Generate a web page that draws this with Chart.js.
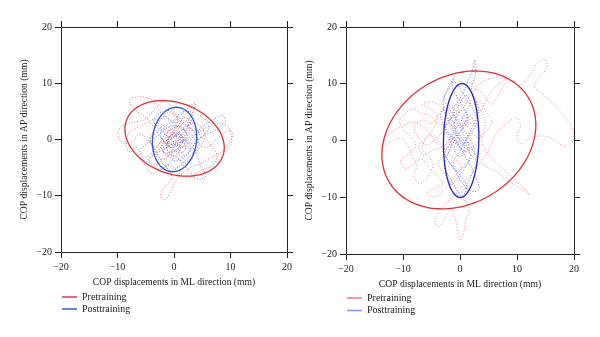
<!DOCTYPE html>
<html>
<head>
<meta charset="utf-8">
<script src="https://cdn.jsdelivr.net/npm/chart.js@4/dist/chart.umd.min.js"></script>
<style>
  body { margin: 0; background: #fff; }
  .panel { position: absolute; top: 0; width: 300px; height: 337px; }
</style>
</head>
<body>
<div class="panel" style="left:0"><canvas id="before" width="300" height="337"></canvas></div>
<div class="panel" style="left:300px"><canvas id="after" width="300" height="337"></canvas></div>

<script>
// axis ticks (mm)
const axisTicks = [-20, -10, 0, 10, 20];
const seriesNames = ["Pretraining", "Posttraining"];

// left panel: COP paths [ML, AP] in mm
const preLeftPath = [
  [0.2,0.5],[1.5,1.8],[2.8,0.9],[1.9,-0.8],[0.4,-1.9],[-1.2,-0.9],[-2.6,0.8],[-3.9,2.6],[-5.2,4.1],[-6.8,5.2],
  [-7.9,6.9],[-6.4,7.6],[-4.5,7.3],[-3.2,6.1],[-4.1,4.5],[-5.6,3.4],[-7.5,3.0],[-9.3,2.4],[-9.9,0.9],[-9.0,-0.6],
  [-7.4,-0.4],[-6.1,0.9],[-4.8,0.2],[-3.5,-1.6],[-2.4,-3.5],[-1.1,-5.2],[-0.4,-6.9],[-1.6,-8.4],[-2.4,-10.1],[-1.5,-10.7],
  [-0.6,-9.2],[0.3,-7.4],[1.4,-6.1],[2.9,-5.0],[4.6,-4.3],[6.2,-3.4],[7.9,-2.5],[9.3,-1.2],[10.3,0.4],[10.1,1.6],
  [8.8,1.1],[7.2,-0.2],[5.9,-1.4],[4.3,-0.6],[3.1,0.9],[2.4,2.7],[3.2,4.6],[3.8,6.5],[2.6,5.7],[1.1,4.2],
  [-0.3,3.1],[-1.8,4.4],[-2.9,5.9],[-1.6,6.8],[-0.2,5.4],[0.6,3.6],[0.1,1.7],[-0.9,0.3],[-2.1,-1.1],[-3.4,-2.4],
  [-4.6,-3.6],[-3.1,-4.4],[-1.6,-3.2],[-0.3,-2.1],[1.1,-2.9],[2.3,-3.9],[3.6,-2.6],[4.8,-1.1],[5.5,0.8],[4.6,2.4],
  [3.1,2.9],[1.7,1.2],[0.6,-0.4],[-0.7,-1.4],[-1.4,0.6],[-0.5,2.1],[0.9,2.5],[2.1,1.4],[1.3,-0.2],[0.2,-1.1],
  [-1.0,-2.4],[-2.2,-1.8],[-1.7,0.1],[-0.4,0.8],[0.8,1.9],[2.2,3.3],[3.6,2.1],[4.9,0.4],[6.4,-0.9],[7.6,-2.8],
  [6.8,-4.6],[5.2,-5.3],[3.6,-6.2],[2.1,-6.8],[0.7,-5.8],[-0.8,-4.6],[-2.3,-5.2],[-3.9,-6.1],[-5.0,-4.8],[-5.9,-3.1],
  [-6.6,-1.4],[-7.8,-2.2],[-8.6,-0.6],[-7.9,1.2],[-6.4,2.2],[-4.9,2.9],[-3.4,3.6],[-2.0,2.6],[-0.6,1.2],[0.9,0.1],
  [2.2,-1.3],[3.4,-2.9],[2.3,-4.2],[0.9,-3.6],[-0.4,-2.8],[-1.8,-3.6],[-2.9,-2.6],[-2.0,-1.0],[-0.7,0.4],[0.6,1.0],
  [1.9,0.2],[2.9,-0.8],[3.9,0.6],[3.1,1.8],[1.8,2.6],[0.4,3.9],[-1.0,4.8],[-2.4,3.4],[-3.6,1.6],[-4.4,-0.2],
  [-3.4,-1.3],[-2.1,-0.4],[-0.9,-0.8],[0.3,-0.2],[1.1,-1.5],[0.1,-2.9],[-1.2,-1.9],[-0.6,0.9],[0.7,2.4],[1.6,3.9],
  [2.9,5.0],[4.4,4.3],[5.8,3.4],[7.0,2.6],[8.2,2.9],[9.6,2.2],[10.2,-0.6],[9.0,-2.2]
];
const postLeftPath = [
  [0.3,0.2],[1.4,-0.6],[2.2,0.9],[1.1,2.3],[-0.5,1.8],[-1.8,0.6],[-2.7,-0.9],[-3.9,-2.2],[-5.1,-3.1],[-6.0,-2.0],
  [-4.8,-0.8],[-3.3,0.3],[-2.2,1.6],[-2.9,3.0],[-1.6,4.1],[-0.2,3.3],[0.9,4.5],[2.3,5.1],[3.4,4.0],[2.6,2.6],
  [3.9,1.5],[5.4,2.6],[7.0,3.6],[8.6,4.3],[9.1,3.2],[7.8,2.0],[6.2,1.1],[4.6,0.3],[3.4,-1.2],[4.1,-2.9],
  [4.8,-4.8],[5.6,-6.5],[4.2,-7.0],[2.8,-5.8],[1.5,-4.4],[0.4,-3.1],[-0.8,-4.2],[-2.1,-5.3],[-3.6,-4.9],[-4.4,-3.6],
  [-3.0,-2.4],[-1.5,-1.6],[-0.2,-0.8],[1.0,-1.9],[2.1,-2.9],[2.9,-1.6],[2.0,-0.3],[0.8,0.6],[-0.6,0.1],[-1.4,-1.2],
  [-0.6,-2.3],[0.6,-1.6],[1.6,-0.2],[0.9,1.2],[-0.4,1.0],[-1.1,-0.3],[-0.1,-1.0],[1.2,-0.4],[2.5,0.4],[1.7,1.6],
  [0.2,2.4],[-1.3,2.1],[-2.4,0.9],[-1.7,-0.5],[-0.5,-1.4],[0.9,-0.9],[1.8,0.2],[0.7,0.9],[-0.4,0.3],[-1.6,0.9],
  [-2.8,2.0],[-3.6,3.4],[-2.6,4.6],[-1.1,5.2],[0.3,4.4],[1.5,3.2],[2.8,2.0],[3.9,0.7],[4.3,-1.0],[3.6,-2.2],
  [2.2,-3.5],[0.8,-4.8],[-0.6,-5.6],[-1.9,-4.4],[-2.9,-3.3],[-3.6,-1.6],[-4.2,0.2],[-3.1,1.2],[-1.7,2.6],[-0.3,1.4],
  [1.0,0.2],[2.1,-1.2],[1.3,-2.4],[0.0,-2.0],[-1.2,-3.0],[-2.0,-1.8],[-0.9,-0.4],[0.4,0.9],[1.7,1.9],[2.9,3.2],
  [1.8,3.9],[0.5,3.0],[-0.8,2.9],[-1.9,1.7],[-1.0,0.4],[0.2,-0.6],[1.4,-1.4],[2.6,-0.6],[3.4,0.6],[4.8,1.6],
  [6.4,2.4],[5.4,0.9],[4.0,-0.4],[2.8,-2.0],[1.6,-3.2],[0.3,-3.8],[-0.9,-2.9],[-1.9,-2.0],[-0.8,-1.2],[0.5,-0.3]
];

// right panel: COP paths [ML, AP] in mm
const preRightPath = [
  [-1,0],[-2.5,-1.5],[-4,-0.5],[-5.5,1.5],[-7,2.8],[-8.5,3.2],[-10,2.6],[-11.5,1.8],[-12.8,0.6],[-13.4,-0.8],
  [-12.2,-0.3],[-10.6,0.4],[-9.2,-0.8],[-8.4,-2.6],[-7.6,-4.4],[-8.1,-6.2],[-7.0,-7.6],[-5.6,-6.4],[-4.8,-4.6],[-5.4,-2.8],
  [-6.6,-1.6],[-6.0,0.4],[-4.6,2.2],[-4.0,4.2],[-5.2,5.6],[-6.6,6.4],[-5.0,6.8],[-3.4,6.0],[-2.4,4.2],[-1.6,2.2],
  [-0.4,0.6],[0.9,-1.0],[2.0,-2.6],[3.4,-3.8],[5.0,-4.8],[6.6,-5.6],[8.0,-6.8],[9.6,-7.9],[11.0,-8.7],[12.2,-9.6],
  [11.2,-8.4],[9.4,-6.8],[7.8,-5.2],[6.0,-3.6],[4.6,-2.0],[3.8,0.2],[4.4,2.4],[4.0,4.6],[3.0,6.4],[2.4,8.4],
  [3.4,10.0],[5.0,10.8],[7.0,11.2],[8.8,10.6],[10.4,9.8],[11.8,10.8],[12.8,12.4],[13.6,13.8],[15.0,14.2],[15.2,12.8],
  [14.0,11.2],[13.0,9.6],[14.2,8.4],[15.6,7.2],[17.0,5.8],[18.4,4.2],[19.6,2.4],[20,0.6],[19.4,-0.6],[18.2,-1.0],
  [17.0,-0.2],[15.6,0.6],[14.0,0.8],[12.4,0.4],[10.8,-0.6],[10.0,0.8],[10.6,2.6],[10.0,4.0],[8.6,3.4],[7.2,2.2],
  [6.0,0.6],[5.2,-1.4],[4.2,-3.0],[2.8,-4.8],[1.4,-6.6],[0.2,-8.4],[-1.2,-9.8],[-2.6,-11.2],[-3.8,-12.8],[-4.4,-14.6],
  [-3.6,-15.2],[-2.6,-13.6],[-1.6,-12.0],[-0.8,-13.8],[-0.4,-15.8],[0.0,-17.6],[0.6,-16.4],[1.0,-14.2],[1.6,-12.4],[0.8,-10.6],
  [-0.4,-9.0],[-1.6,-7.4],[-2.8,-5.8],[-3.8,-4.0],[-2.6,-2.6],[-1.4,-1.4],[-2.0,0.4],[-3.0,1.8],[-2.2,3.4],[-0.8,4.6],
  [0.6,5.8],[1.6,7.6],[2.8,9.0],[4.2,8.0],[5.4,6.4],[6.6,7.8],[7.6,9.6],[9.0,11.2],[7.4,10.4],[5.8,9.0],
  [4.6,7.2],[3.6,5.2],[2.4,4.0],[0.8,3.2],[-0.6,2.4],[-2.2,2.8],[-3.8,3.0],[-5.2,4.4],[-6.8,4.8],[-8.2,5.6],
  [-9.6,4.8],[-10.6,3.4],[-9.8,1.8],[-8.6,0.6],[-7.8,-1.0],[-9.0,-2.4],[-10.4,-3.6],[-9.6,-5.0],[-8.2,-4.2],[-6.8,-3.2],
  [-5.6,-4.6],[-4.2,-6.0],[-3.0,-7.6],[-4.4,-8.4],[-5.8,-9.2],[-4.6,-10.0],[-3.2,-9.2],[-2.0,-7.8],[-0.8,-6.2],[0.2,-4.6],
  [-1.0,-3.2],[-2.4,-1.8],[-3.6,-0.2],[-4.8,1.0],[-6.2,0.2],[-7.2,-1.2],[-6.4,-2.6],[-5.0,-1.8],[-3.4,-1.2],[-1.8,-0.2],
  [-0.6,1.4],[0.6,2.8],[1.8,4.2],[2.8,2.6],[3.6,0.8],[2.6,-0.8],[1.2,-2.0],[-0.2,-1.0],[-1.4,0.6],[-2.8,1.4],
  [-4.2,0.4],[-5.6,-0.8],[-7.2,0.4],[-8.0,2.4],[-6.6,3.6],[-5.0,3.0],[-3.6,4.8],[-2.2,6.2],[-0.8,5.4],[0.4,3.8],
  [1.8,1.8],[3.2,0.4],[4.6,1.6],[5.6,3.4],[4.4,5.2],[3.6,6.8],[2.0,6.0]
];
const postRightPath = [
  [0,0],[-0.8,1.2],[-1.6,2.8],[-2.4,4.6],[-3.0,6.4],[-2.6,8.2],[-1.8,9.8],[-1.0,11.2],[-1.4,9.6],[-0.6,7.8],
  [0.4,6.2],[1.2,4.4],[0.6,2.6],[-0.4,0.8],[-1.4,-0.8],[-2.2,-2.6],[-2.8,-4.4],[-2.0,-6.2],[-1.0,-7.8],[-0.2,-9.2],
  [0.8,-8.6],[1.6,-7.0],[2.4,-5.2],[3.0,-3.4],[2.2,-1.6],[1.2,0.0],[0.4,1.6],[-0.6,3.4],[-1.2,5.2],[-0.4,6.8],
  [0.6,8.6],[1.4,10.4],[2.2,12.4],[2.6,14.2],[2.8,12.6],[2.4,10.6],[2.0,8.8],[2.8,7.0],[3.2,5.2],[2.6,3.4],
  [1.8,1.6],[0.8,-0.4],[-0.2,-2.2],[-1.2,-4.0],[-0.6,-5.8],[0.4,-7.4],[1.4,-8.6],[2.6,-9.0],[3.4,-8.4],[2.8,-6.6],
  [2.0,-4.8],[1.0,-3.0],[0.2,-1.4],[-0.8,0.2],[-2.0,1.4],[-3.0,3.0],[-3.4,4.8],[-2.4,5.6],[-1.6,4.0],[-0.8,2.2],
  [0.2,0.6],[1.2,-1.0],[1.8,-2.8],[0.8,-4.4],[-0.4,-5.4],[-1.6,-4.2],[-2.6,-2.4],[-1.8,-0.6],[-0.6,1.0],[0.6,2.2],
  [1.4,3.8],[0.6,5.4],[-0.6,4.2],[-1.0,2.4],[-0.2,0.6],[0.8,-1.2],[0.0,-2.8],[-1.0,-1.6],[-0.4,0.0],[0.4,-0.8],
  [1.4,0.6],[2.4,2.0],[3.0,3.8],[2.2,5.6],[1.2,7.2],[0.2,8.8],[-0.8,10.2],[-2.0,9.0],[-2.8,7.4],[-2.0,5.8],
  [-1.0,4.4],[0.0,3.0],[1.0,1.4],[2.0,-0.2],[2.6,-2.0],[1.6,-3.6],[0.6,-5.2],[-0.6,-6.8],[-1.8,-8.2],[-0.8,-9.4],
  [0.4,-9.8],[1.2,-8.0],[0.2,-6.4],[-1.0,-5.0],[-2.2,-3.4],[-3.0,-1.6],[-2.0,0.0],[-1.0,1.6],[0.2,3.4],[1.0,5.0],
  [1.8,6.6],[1.0,8.0],[0.0,6.6],[-0.8,5.2],[-1.8,3.6],[-2.6,2.0],[-1.6,0.6],[-0.4,-0.6],[0.6,-2.0],[1.6,-1.2],
  [0.8,0.4]
];

// confidence ellipses: [centerML, centerAP, semiMajor, semiMinor, angleDeg]
const preLeftEllipse = [0.1, 0.2, 9.1, 6.3, -21];
const postLeftEllipse = [0.1, 0.0, 5.75, 3.9, 84];
const preRightEllipse = [-0.2, 0.1, 14.3, 11.2, 32];
const postRightEllipse = [0.2, 0.0, 10.05, 3.1, 89];

function ellipsePoints(e) {
  const [cx, cy, a, b, deg] = e;
  const t = deg * Math.PI / 180;
  const pts = [];
  for (let i = 0; i <= 90; i++) {
    const u = i / 90 * 2 * Math.PI;
    const x = a * Math.cos(u), y = b * Math.sin(u);
    pts.push({ x: cx + x * Math.cos(t) - y * Math.sin(t), y: cy + x * Math.sin(t) + y * Math.cos(t) });
  }
  return pts;
}

const toXY = (path) => path.map(p => ({ x: p[0], y: p[1] }));
const minus = (v) => (v < 0 ? "\u2212" + Math.abs(v) : "" + v);

Chart.defaults.font.family = "'Liberation Serif', 'DejaVu Serif', serif";
Chart.defaults.font.size = 10;
Chart.defaults.color = "#222";

// small legend under the x title: short line + series name
const legendUnder = {
  id: "legendUnder",
  afterDraw(chart, args, opts) {
    const ctx = chart.ctx;
    ctx.save();
    ctx.font = "10px 'Liberation Serif', 'DejaVu Serif', serif";
    ctx.textBaseline = "middle";
    seriesNames.forEach((name, i) => {
      const y = opts.y + i * opts.gap;
      ctx.strokeStyle = opts.colors[i];
      ctx.lineWidth = 1.6;
      ctx.beginPath();
      ctx.moveTo(opts.x, y);
      ctx.lineTo(opts.x + 15, y);
      ctx.stroke();
      ctx.fillStyle = "#222";
      ctx.fillText(name, opts.x + 20, y);
    });
    ctx.restore();
  }
};

function frameAxis(pos, size, showLabels, title) {
  return {
    type: "linear",
    position: pos,
    min: -20, max: 20,
    afterBuildTicks: (s) => { s.ticks = axisTicks.map(v => ({ value: v })); },
    afterFit: (s) => {
      if (pos === "left" || pos === "right") s.width = size; else s.height = size;
    },
    grid: { drawOnChartArea: false, drawTicks: true, tickLength: 6, color: "#222", lineWidth: 1 },
    border: { display: true, color: "#222", width: 1 },
    ticks: { display: showLabels, padding: 3, callback: minus },
    title: { display: !!title, text: title, font: { size: 9.6 }, padding: { top: 4, bottom: 4 } }
  };
}

function buildChart(id, paths, ellipses, pad, colors, legendOpts) {
  const datasets = [];
  // tension keeps the ellipse off the per-pixel fast path, which flattens steep sides
  ellipses.forEach((e, i) => {
    datasets.push({
      data: ellipsePoints(e), showLine: true, pointRadius: 0, tension: 0.2,
      borderColor: colors.ellipse[i], borderWidth: 1.3, order: i
    });
  });
  paths.forEach((p, i) => {
    datasets.push({
      data: toXY(p), showLine: true, pointRadius: 0, tension: 0.35,
      borderColor: colors.path[i], borderWidth: 1, borderDash: [1, 1.8], order: 4 - i
    });
  });
  new Chart(document.getElementById(id), {
    type: "scatter",
    data: { datasets },
    plugins: [legendUnder],
    options: {
      responsive: false,
      animation: false,
      devicePixelRatio: 1,
      layout: { padding: pad },
      plugins: { legend: { display: false }, tooltip: { enabled: false }, legendUnder: legendOpts },
      scales: {
        x: frameAxis("bottom", 40, true, "COP displacements in ML direction (mm)"),
        y: frameAxis("left", 46, true, "COP displacements in AP direction (mm)"),
        xTop: frameAxis("top", 6, false),
        yRight: frameAxis("right", 6, false)
      }
    }
  });
}

buildChart("before", [preLeftPath, postLeftPath], [preLeftEllipse, postLeftEllipse],
  { left: 15, top: 21, right: 7, bottom: 45 },
  { ellipse: ["#d8323a", "#2c55d4"], path: ["rgba(222,70,78,0.75)", "rgba(60,95,225,0.8)"] },
  { x: 62, y: 297, gap: 12, colors: ["#e04050", "#4262d4"] });

buildChart("after", [preRightPath, postRightPath], [preRightEllipse, postRightEllipse],
  { left: 0, top: 21, right: 20, bottom: 43 },
  { ellipse: ["#d8323a", "#2424b8"], path: ["rgba(225,95,100,0.7)", "rgba(75,80,220,0.8)"] },
  { x: 47, y: 298, gap: 12.5, colors: ["#ee8088", "#8898ec"] });
</script>
</body>
</html>
